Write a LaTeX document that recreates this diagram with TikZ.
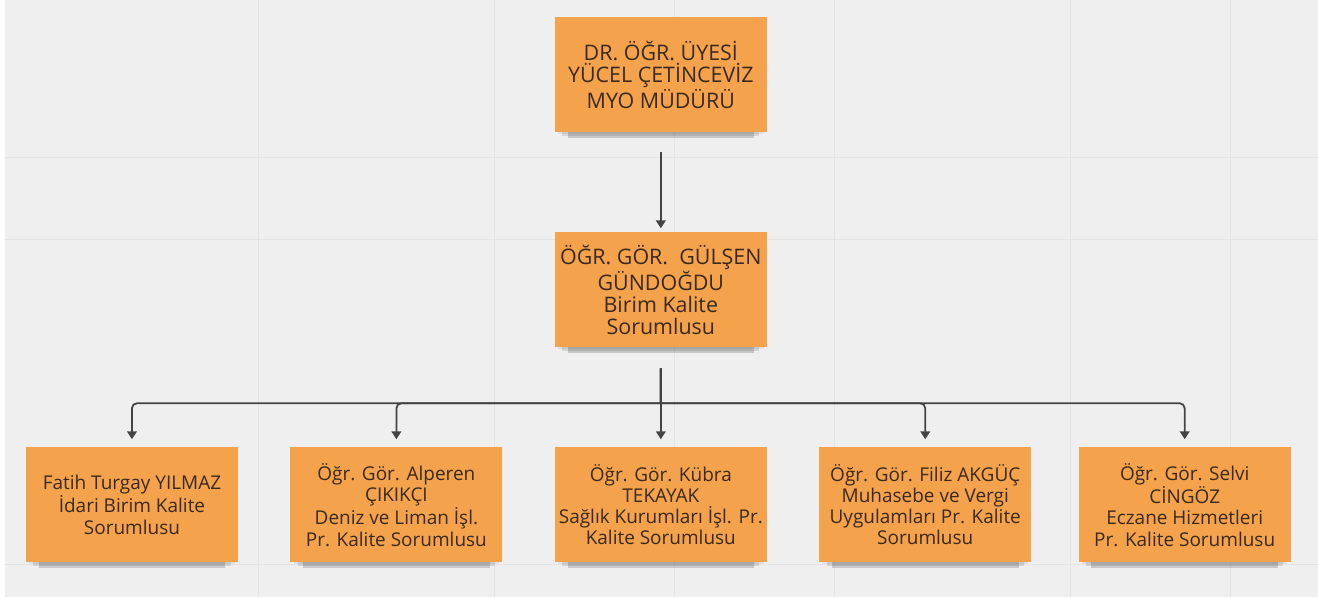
\documentclass[tikz,border=0pt]{standalone}
\usepackage{fontspec}
\setmainfont{Open Sans}
\usepackage{tikz}
\usetikzlibrary{
  arrows.meta,
  positioning,  % below=of, left=of
  shadows,      % general shadow under the notes
}
\definecolor{notefill}{HTML}{F4A24C}
\definecolor{notetext}{HTML}{3A2A1E}
\definecolor{canvas}{HTML}{EFEFEF}
\definecolor{gridline}{HTML}{E5E5E5}
\definecolor{linkgray}{HTML}{444444}
\def\mynwidth{4.24cm}
\def\mynheight{2.3cm}
\tikzset{
  font=\fontsize{10.8}{12.1}\selectfont,
  >={Triangle[width=5.5pt,length=4.5pt]},
  note shadow/.style={
    general shadow={fill=black,opacity=0.06,shadow scale=0.97,shadow yshift=-2pt},
    general shadow={fill=black,opacity=0.11,shadow scale=0.93,shadow yshift=-5pt},
    general shadow={fill=black,opacity=0.16,shadow scale=0.88,shadow yshift=-8pt}
  },
  note/.style={
    note shadow,
    rectangle,
    fill=notefill,
    text=notetext,
    align=center,
    minimum width=\mynwidth,
    minimum height=\mynheight,
    inner xsep=0.5mm,
    inner ysep=1mm,
    outer sep=0pt
  },
  note big/.style={
    note,
    font=\fontsize{12.2}{12.4}\selectfont
  },
  link/.style={
    ->,
    draw=linkgray,
    line width=1pt
  },
  org/.style={
    node distance=2cm and 1.05cm
  }
}

\begin{document}
\begin{tikzpicture}[org]
% canvas and grid
\fill[white]  (0,0) rectangle (26.36,-11.94);
\fill[canvas] (0.1,0) rectangle (26.36,-11.94);
\foreach \gx in {5.16,9.88,13.5,16.7,21.42,24.62}
  \draw[gridline] (\gx,0) -- (\gx,-11.94);
\foreach \gy in {3.14,4.78,11.28}
  \draw[gridline] (0.1,-\gy) -- (26.36,-\gy);
\useasboundingbox (0,0) rectangle (26.36,-11.94);

\node[note big]         (mudur)   at (13.22,-1.49) {DR. ÖĞR. ÜYESİ\\YÜCEL ÇETİNCEVİZ\\MYO MÜDÜRÜ};
\node[note big]         (gulsen)  [below=of mudur] {ÖĞR. GÖR.\ \ GÜLŞEN\\GÜNDOĞDU\\Birim Kalite\\Sorumlusu};
\node[note]             (kubra)   [below=of gulsen] {Öğr. Gör. Kübra\\TEKAYAK\\Sağlık Kurumları İşl. Pr.\\Kalite Sorumlusu};
\node[note]             (alperen) [left=of kubra]   {Öğr. Gör. Alperen\\ÇIKIKÇI\\Deniz ve Liman İşl.\\Pr. Kalite Sorumlusu};
\node[note]             (fatih)   [left=of alperen] {Fatih Turgay YILMAZ\\İdari Birim Kalite\\Sorumlusu};
\node[note]             (filiz)   [right=of kubra]  {Öğr. Gör. Filiz AKGÜÇ\\Muhasebe ve Vergi\\Uygulamları Pr. Kalite\\Sorumlusu};
\node[note,xshift=-1mm] (selvi)   [right=of filiz]  {Öğr. Gör. Selvi\\CİNGÖZ\\Eczane Hizmetleri\\Pr. Kalite Sorumlusu};

\draw[link,shorten <=0.4cm,shorten >=0.08cm] (mudur) -- (gulsen);
\foreach \k in {fatih,alperen,kubra,filiz,selvi}
  \draw[link,shorten <=0.42cm,shorten >=0.16cm]
    (gulsen.south) -- ++(0,-1.12) [rounded corners=0.1cm] -| (\k.north);
\end{tikzpicture}
\end{document}
